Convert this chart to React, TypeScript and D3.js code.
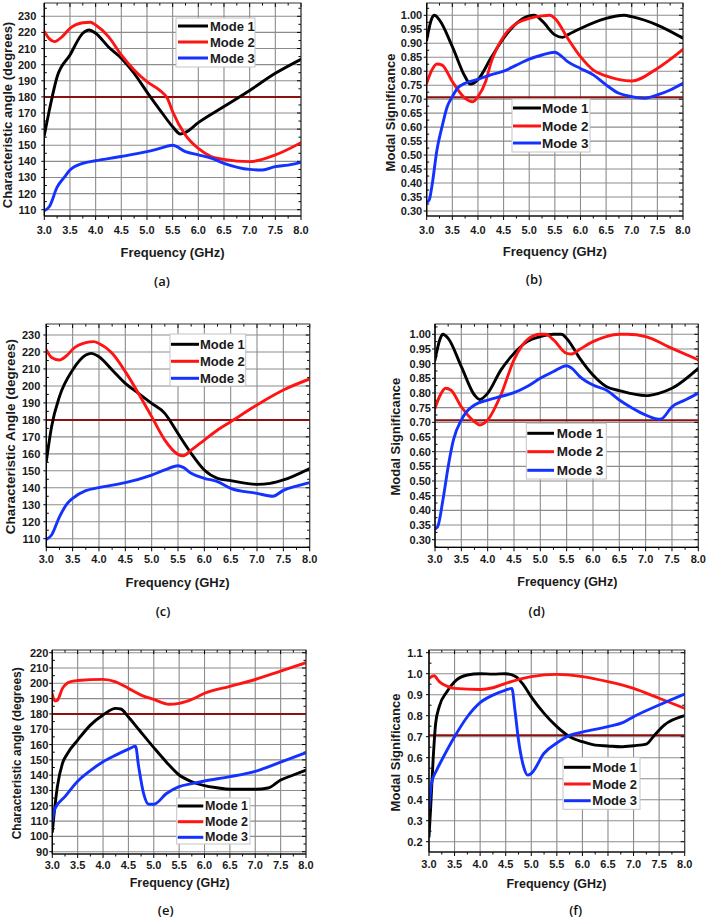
import React from "react";
import * as d3 from "d3";

type Pt = [number, number];

const freqTicks = [3.0, 3.5, 4.0, 4.5, 5.0, 5.5, 6.0, 6.5, 7.0, 7.5, 8.0];
const modeNames = ["Mode 1", "Mode 2", "Mode 3"];
const modeColors = ["#000000", "#ff1414", "#1432ff"];
const angleTicksA = [110, 120, 130, 140, 150, 160, 170, 180, 190, 200, 210, 220, 230];
const angleTicksE = [90, 100, 110, 120, 130, 140, 150, 160, 170, 180, 190, 200, 210, 220];
const msTicksB = [0.3, 0.35, 0.4, 0.45, 0.5, 0.55, 0.6, 0.65, 0.7, 0.75, 0.8, 0.85, 0.9, 0.95, 1.0];
const msTicksF = [0.2, 0.3, 0.4, 0.5, 0.6, 0.7, 0.8, 0.9, 1.0, 1.1];
const angleRef = 180;
const msRef = 0.707;

const aMode1: Pt[] = [[3.0,156],[3.1,172],[3.25,192.5],[3.5,206],[3.75,219.5],[3.87,221.5],[4.0,219.5],[4.25,211],[4.5,204],[4.75,194.6],[5.0,183],[5.25,172],[5.5,161.5],[5.65,157],[5.75,158],[6.0,164],[6.5,174],[7.0,184],[7.5,194.6],[8.0,203.3]];
const aMode2: Pt[] = [[3.0,220.5],[3.1,216],[3.2,214.3],[3.35,217.4],[3.5,222.5],[3.75,226],[3.9,226.3],[4.0,224.6],[4.25,217.4],[4.5,206],[4.75,196.7],[5.0,189.4],[5.25,184],[5.4,179],[5.5,170.8],[5.75,156.3],[6.0,148],[6.25,143],[6.5,141.2],[7.0,139.8],[7.5,144],[8.0,151.6]];
const aMode3: Pt[] = [[3.0,109.4],[3.1,112],[3.25,124],[3.4,130.5],[3.5,134.6],[3.75,138.8],[4.0,140.4],[4.5,143],[5.0,146],[5.25,148],[5.5,150],[5.75,146],[6.0,144],[6.25,142],[6.5,138.8],[7.0,135],[7.25,134.6],[7.5,136.7],[7.75,137.7],[8.0,139.4]];

const bMode1: Pt[] = [[3.0,0.912],[3.1,0.989],[3.15,1.0],[3.25,0.983],[3.5,0.888],[3.75,0.78],[3.85,0.754],[4.0,0.77],[4.25,0.846],[4.5,0.918],[4.75,0.971],[5.0,0.998],[5.1,1.0],[5.25,0.98],[5.5,0.93],[5.65,0.921],[5.75,0.93],[6.0,0.953],[6.5,0.989],[6.85,1.0],[7.0,0.995],[7.5,0.965],[8.0,0.918]];
const bMode2: Pt[] = [[3.0,0.757],[3.1,0.804],[3.2,0.826],[3.3,0.822],[3.5,0.763],[3.75,0.703],[3.9,0.691],[4.0,0.709],[4.15,0.763],[4.25,0.828],[4.5,0.924],[4.75,0.971],[5.0,0.989],[5.25,0.998],[5.4,1.0],[5.5,0.989],[5.75,0.918],[6.0,0.852],[6.25,0.804],[6.5,0.783],[7.0,0.765],[7.5,0.81],[8.0,0.878]];
const bMode3: Pt[] = [[3.0,0.331],[3.05,0.34],[3.1,0.387],[3.2,0.518],[3.3,0.602],[3.4,0.673],[3.5,0.709],[3.6,0.739],[3.75,0.757],[4.0,0.771],[4.25,0.787],[4.5,0.8],[4.75,0.822],[5.0,0.843],[5.25,0.858],[5.5,0.868],[5.6,0.858],[5.75,0.834],[6.0,0.81],[6.25,0.787],[6.5,0.751],[6.75,0.721],[7.0,0.709],[7.25,0.703],[7.5,0.715],[7.75,0.733],[8.0,0.757]];

const cMode1: Pt[] = [[3.0,155.4],[3.1,176],[3.25,193.7],[3.5,209.4],[3.75,218.2],[3.85,219.2],[4.0,217.2],[4.25,209.4],[4.5,201.5],[4.75,195.6],[5.0,189.7],[5.25,183.8],[5.4,177],[5.5,172],[5.75,160.3],[6.0,150.5],[6.25,145.6],[6.5,144.2],[7.0,142],[7.25,142.6],[7.5,144.6],[8.0,151.4]];
const cMode2: Pt[] = [[3.0,221.2],[3.1,216.8],[3.25,215.3],[3.4,218.2],[3.5,221.6],[3.75,225.5],[3.9,226.1],[4.0,225],[4.25,219.2],[4.5,208.4],[4.75,195.6],[5.0,181.9],[5.25,168.1],[5.5,159.7],[5.6,158.9],[5.75,162.2],[6.0,168.1],[6.25,174],[6.5,178.9],[7.0,188.8],[7.5,197.6],[8.0,204.1]];
const cMode3: Pt[] = [[3.0,109.6],[3.1,112.2],[3.25,122.9],[3.4,130.8],[3.5,133.8],[3.75,138.3],[4.0,140.1],[4.5,143],[5.0,147.5],[5.25,150.5],[5.5,153],[5.6,152],[5.75,148.5],[6.0,145.6],[6.25,143.6],[6.5,139.7],[7.0,136.7],[7.3,135],[7.5,138.5],[7.75,141],[8.0,143]];

const dMode1: Pt[] = [[3.0,0.9125],[3.1,0.986],[3.15,1.0],[3.25,0.986],[3.5,0.89],[3.75,0.793],[3.85,0.778],[4.0,0.799],[4.25,0.878],[4.5,0.935],[4.75,0.975],[5.0,0.992],[5.25,1.0],[5.4,1.0],[5.5,0.986],[5.75,0.918],[6.0,0.861],[6.25,0.822],[6.5,0.808],[7.0,0.791],[7.25,0.799],[7.5,0.816],[8.0,0.884]];
const dMode2: Pt[] = [[3.0,0.748],[3.1,0.793],[3.2,0.816],[3.3,0.81],[3.5,0.753],[3.75,0.702],[3.85,0.691],[4.0,0.708],[4.25,0.793],[4.5,0.913],[4.75,0.981],[5.0,1.0],[5.1,1.0],[5.25,0.981],[5.5,0.935],[5.6,0.933],[5.75,0.949],[6.0,0.975],[6.25,0.992],[6.5,1.0],[6.65,1.0],[7.0,0.992],[7.5,0.952],[8.0,0.913]];
const dMode3: Pt[] = [[3.0,0.337],[3.05,0.344],[3.15,0.435],[3.25,0.549],[3.35,0.64],[3.5,0.708],[3.6,0.736],[3.75,0.759],[4.0,0.776],[4.25,0.788],[4.5,0.801],[4.75,0.822],[5.0,0.85],[5.25,0.873],[5.5,0.893],[5.6,0.884],[5.75,0.856],[6.0,0.827],[6.25,0.81],[6.5,0.776],[6.75,0.748],[7.0,0.725],[7.25,0.711],[7.3,0.712],[7.5,0.753],[7.75,0.776],[8.0,0.799]];

const eMode1: Pt[] = [[3.0,103],[3.03,112.9],[3.1,132.5],[3.2,147.7],[3.3,154.2],[3.5,162.9],[3.75,172.7],[4.0,179.3],[4.25,183.6],[4.35,183.2],[4.5,178],[4.7,170],[5.0,158],[5.25,148.5],[5.5,140.1],[5.75,135.7],[6.0,133.2],[6.25,131.8],[6.5,130.8],[7.0,130.8],[7.25,131.6],[7.5,136.8],[7.75,140.1],[8.0,143.3]];
const eMode2: Pt[] = [[3.0,193],[3.05,188.5],[3.1,189],[3.2,196.7],[3.35,201],[3.5,201.8],[4.0,202.6],[4.25,201],[4.5,196.7],[4.75,192.3],[5.0,189.5],[5.3,186.3],[5.5,186.9],[5.75,189.5],[6.0,193.5],[6.5,198],[7.0,202.5],[7.5,208],[8.0,213.5]];
const eMode3: Pt[] = [[3.0,110],[3.05,118],[3.25,126],[3.5,136],[3.75,143],[4.0,148.8],[4.25,153.1],[4.5,157],[4.64,159],[4.7,146],[4.8,128],[4.9,121],[5.0,121],[5.25,128],[5.5,132.5],[5.75,134.5],[6.0,136.2],[6.5,139],[7.0,142.5],[7.5,148.5],[8.0,154.7]];

const fMode1: Pt[] = [[3.0,0.224],[3.03,0.351],[3.08,0.589],[3.13,0.763],[3.2,0.843],[3.35,0.914],[3.5,0.962],[3.75,0.994],[4.0,1.0],[4.25,0.998],[4.5,1.0],[4.7,0.986],[4.85,0.946],[5.0,0.89],[5.25,0.811],[5.5,0.748],[5.75,0.7],[6.0,0.676],[6.25,0.66],[6.5,0.656],[6.75,0.652],[7.0,0.657],[7.25,0.665],[7.4,0.705],[7.6,0.755],[8.0,0.8]];
const fMode2: Pt[] = [[3.0,0.978],[3.1,0.99],[3.2,0.962],[3.35,0.941],[3.5,0.93],[4.0,0.925],[4.25,0.933],[4.5,0.954],[5.0,0.986],[5.5,0.997],[6.0,0.986],[6.5,0.962],[7.0,0.93],[7.5,0.883],[8.0,0.835]];
const fMode3: Pt[] = [[3.0,0.36],[3.05,0.478],[3.15,0.541],[3.25,0.589],[3.5,0.7],[3.75,0.795],[4.0,0.862],[4.25,0.898],[4.5,0.922],[4.62,0.93],[4.68,0.827],[4.75,0.684],[4.85,0.557],[4.93,0.517],[5.0,0.525],[5.25,0.621],[5.5,0.67],[5.75,0.706],[6.0,0.722],[6.5,0.748],[6.8,0.768],[7.0,0.795],[7.5,0.851],[8.0,0.903]];

type Panel = {
  id: string;
  series: Pt[][];
  yTicks: number[];
  yFmt: (v: number) => string;
  minorStep: number;
  ref: number;
  x0: number; x1: number; top: number; bottom: number;
  v1: number; p1: number; v2: number; p2: number;
  labelGap: number; xLabelDy: number;
  yTitle: string; yTitleX: number; yTitleY: number; yTitleSize: number;
  xTitleX: number; xTitleY: number; xTitleSize: number;
  caption: string; capX: number; capY: number;
  leg: { x: number; y: number; w: number; h: number; rows: number[]; lx0: number; lx1: number; tx: number; size: number };
};

const f0 = (v: number) => d3.format(".0f")(v);
const f2 = (v: number) => d3.format(".2f")(v);
const f1 = (v: number) => d3.format(".1f")(v);

const panels: Panel[] = [
  { id: "a", series: [aMode1, aMode2, aMode3], yTicks: angleTicksA, yFmt: f0, minorStep: 5, ref: angleRef,
    x0: 44.3, x1: 301, top: 3, bottom: 216, v1: 230, p1: 16.3, v2: 110, p2: 209.7, labelGap: 8, xLabelDy: 14,
    yTitle: "Characteristic angle (degrees)", yTitleX: 7.5, yTitleY: 115, yTitleSize: 13,
    xTitleX: 172.5, xTitleY: 252.7, xTitleSize: 13, caption: "(a)", capX: 162, capY: 281,
    leg: { x: 176, y: 18, w: 79, h: 49, rows: [26, 42, 58], lx0: 178, lx1: 208, tx: 210, size: 13 } },
  { id: "b", series: [bMode1, bMode2, bMode3], yTicks: msTicksB, yFmt: f2, minorStep: 0.025, ref: msRef,
    x0: 426.7, x1: 683, top: 3, bottom: 216, v1: 1.0, p1: 15.3, v2: 0.3, p2: 211, labelGap: 4.5, xLabelDy: 14,
    yTitle: "Modal Significance", yTitleX: 390.7, yTitleY: 112.5, yTitleSize: 13,
    xTitleX: 554.8, xTitleY: 251.7, xTitleSize: 13, caption: "(b)", capX: 534, capY: 279,
    leg: { x: 512, y: 99, w: 78, h: 53, rows: [108, 126, 143], lx0: 513, lx1: 541, tx: 542, size: 13.5 } },
  { id: "c", series: [cMode1, cMode2, cMode3], yTicks: angleTicksA, yFmt: f0, minorStep: 5, ref: angleRef,
    x0: 46.3, x1: 309.7, top: 324, bottom: 547.3, v1: 230, p1: 335, v2: 110, p2: 538.7, labelGap: 6, xLabelDy: 12,
    yTitle: "Characteristic Angle (degrees)", yTitleX: 10, yTitleY: 436.7, yTitleSize: 13.5,
    xTitleX: 177.5, xTitleY: 582, xTitleSize: 13, caption: "(c)", capX: 163, capY: 611,
    leg: { x: 170, y: 334, w: 75.7, h: 52, rows: [344.3, 361.3, 378.3], lx0: 171, lx1: 199, tx: 200, size: 13 } },
  { id: "d", series: [dMode1, dMode2, dMode3], yTicks: msTicksB, yFmt: f2, minorStep: 0.025, ref: msRef,
    x0: 435, x1: 698.3, top: 324, bottom: 547.3, v1: 1.0, p1: 334.3, v2: 0.3, p2: 539.7, labelGap: 4, xLabelDy: 12,
    yTitle: "Modal Significance", yTitleX: 395.7, yTitleY: 436.7, yTitleSize: 13,
    xTitleX: 567.3, xTitleY: 582, xTitleSize: 12.5, caption: "(d)", capX: 536.7, capY: 611,
    leg: { x: 526.3, y: 423.3, w: 80, h: 55.7, rows: [433.3, 451.7, 470.3], lx0: 527.3, lx1: 554, tx: 556.7, size: 13.5 } },
  { id: "e", series: [eMode1, eMode2, eMode3], yTicks: angleTicksE, yFmt: f0, minorStep: 5, ref: angleRef,
    x0: 52.3, x1: 306, top: 650, bottom: 854, v1: 220, p1: 652.7, v2: 90, p2: 851.7, labelGap: 4, xLabelDy: 11,
    yTitle: "Characteristic angle (degrees)", yTitleX: 16.7, yTitleY: 753.3, yTitleSize: 12,
    xTitleX: 179.7, xTitleY: 883.3, xTitleSize: 12.5, caption: "(e)", capX: 165.7, capY: 910,
    leg: { x: 176.7, y: 798, w: 73.3, h: 46, rows: [806, 821.7, 837.3], lx0: 177.7, lx1: 203.3, tx: 205, size: 12.5 } },
  { id: "f", series: [fMode1, fMode2, fMode3], yTicks: msTicksF, yFmt: f1, minorStep: 0.05, ref: msRef,
    x0: 429, x1: 684.7, top: 650, bottom: 852, v1: 1.1, p1: 652.7, v2: 0.2, p2: 841.7, labelGap: 6.5, xLabelDy: 11.5,
    yTitle: "Modal Significance", yTitleX: 395.7, yTitleY: 752.5, yTitleSize: 13,
    xTitleX: 556.5, xTitleY: 884, xTitleSize: 12.5, caption: "(f)", capX: 575.7, capY: 910,
    leg: { x: 563, y: 757.3, w: 77, h: 52, rows: [767.3, 784, 800.7], lx0: 564, lx1: 590.7, tx: 592.3, size: 13 } },
];

const FONT = "'Liberation Sans', Arial, Helvetica, sans-serif";
const CAPFONT = "'Open Sans', 'Noto Sans', sans-serif";

function PanelView({ p }: { p: Panel }) {
  const x = d3.scaleLinear().domain([3, 8]).range([p.x0, p.x1]);
  const y = d3.scaleLinear().domain([p.v1, p.v2]).range([p.p1, p.p2]);
  const line = d3.line<Pt>().x((d) => x(d[0])).y((d) => y(d[1])).curve(d3.curveMonotoneX);
  const minorX = d3.range(3.25, 8, 0.5);
  const yMin = y.invert(p.bottom);
  const yMax = y.invert(p.top);
  const minorY: number[] = [];
  for (let v = p.yTicks[0] - p.minorStep * 2; v <= yMax + 1e-9; v += p.minorStep) {
    if (v >= yMin && v <= yMax) {
      const isMajor = p.yTicks.some((t) => Math.abs(t - v) < 1e-6);
      if (!isMajor) minorY.push(v);
    }
  }
  const clipId = `clip-${p.id}`;
  return (
    <g>
      <defs>
        <clipPath id={clipId}>
          <rect x={p.x0} y={p.top} width={p.x1 - p.x0} height={p.bottom - p.top} />
        </clipPath>
      </defs>
      <rect x={p.x0} y={p.top} width={p.x1 - p.x0} height={p.bottom - p.top} fill="#ffffff" />
      {freqTicks.map((t) => (
        <line key={`gx${t}`} x1={x(t)} x2={x(t)} y1={p.top} y2={p.bottom} stroke="#8c8c8c" strokeWidth={1.1} />
      ))}
      {p.yTicks.map((t) => (
        <line key={`gy${t}`} x1={p.x0} x2={p.x1} y1={y(t)} y2={y(t)} stroke="#8c8c8c" strokeWidth={1.1} />
      ))}
      {freqTicks.map((t) => (
        <g key={`tx${t}`}>
          <line x1={x(t)} x2={x(t)} y1={p.bottom} y2={p.bottom + 4} stroke="#000" strokeWidth={1} />
          <line x1={x(t)} x2={x(t)} y1={p.top} y2={p.top + 4} stroke="#000" strokeWidth={1} />
        </g>
      ))}
      {minorX.map((t) => (
        <g key={`mx${t}`}>
          <line x1={x(t)} x2={x(t)} y1={p.bottom} y2={p.bottom + 2.5} stroke="#000" strokeWidth={1} />
          <line x1={x(t)} x2={x(t)} y1={p.top} y2={p.top + 2.5} stroke="#000" strokeWidth={1} />
        </g>
      ))}
      {p.yTicks.map((t) => (
        <g key={`ty${t}`}>
          <line x1={p.x0 - 3} x2={p.x0} y1={y(t)} y2={y(t)} stroke="#000" strokeWidth={1} />
          <line x1={p.x1 - 4} x2={p.x1} y1={y(t)} y2={y(t)} stroke="#000" strokeWidth={1} />
        </g>
      ))}
      {minorY.map((t) => (
        <g key={`my${t}`}>
          <line x1={p.x0} x2={p.x0 + 2.5} y1={y(t)} y2={y(t)} stroke="#000" strokeWidth={1} />
          <line x1={p.x1 - 2.5} x2={p.x1} y1={y(t)} y2={y(t)} stroke="#000" strokeWidth={1} />
        </g>
      ))}
      <line x1={p.x0} x2={p.x1} y1={y(p.ref)} y2={y(p.ref)} stroke="#8b1010" strokeWidth={2} />
      <g clipPath={`url(#${clipId})`}>
        {p.series.map((s, i) => (
          <path key={i} d={line(s) || ""} fill="none" stroke={modeColors[i]} strokeWidth={2.9} strokeLinejoin="round" strokeLinecap="round" />
        ))}
      </g>
      <rect x={p.x0} y={p.top} width={p.x1 - p.x0} height={p.bottom - p.top} fill="none" stroke="#333" strokeWidth={1} />
      <line x1={p.x0} x2={p.x0} y1={p.top} y2={p.bottom} stroke="#000" strokeWidth={1.2} />
      <line x1={p.x0} x2={p.x1} y1={p.bottom} y2={p.bottom} stroke="#000" strokeWidth={1.2} />
      {freqTicks.map((t) => (
        <text key={`lx${t}`} x={x(t)} y={p.bottom + p.xLabelDy} textAnchor="middle" dominantBaseline="central"
          fontFamily={FONT} fontWeight="bold" fontSize={11} fill="#1a1a1a">{f1(t)}</text>
      ))}
      {p.yTicks.map((t) => (
        <text key={`ly${t}`} x={p.x0 - p.labelGap} y={y(t)} textAnchor="end" dominantBaseline="central"
          fontFamily={FONT} fontWeight="bold" fontSize={11} fill="#1a1a1a">{p.yFmt(t)}</text>
      ))}
      <text x={p.xTitleX} y={p.xTitleY} textAnchor="middle" dominantBaseline="central" fontFamily={FONT}
        fontWeight="bold" fontSize={p.xTitleSize} fill="#1a1a1a">Frequency (GHz)</text>
      <text transform={`translate(${p.yTitleX},${p.yTitleY}) rotate(-90)`} textAnchor="middle" dominantBaseline="central"
        fontFamily={FONT} fontWeight="bold" fontSize={p.yTitleSize} fill="#1a1a1a">{p.yTitle}</text>
      <text x={p.capX} y={p.capY} textAnchor="middle" dominantBaseline="central" fontFamily={CAPFONT}
        fontSize={13} fontWeight={600} fill="#111">{p.caption}</text>
      <rect x={p.leg.x} y={p.leg.y} width={p.leg.w} height={p.leg.h} fill="#ffffff" stroke="#c4c4c4" strokeWidth={1} />
      {modeNames.map((m, i) => (
        <g key={m}>
          <line x1={p.leg.lx0} x2={p.leg.lx1} y1={p.leg.rows[i]} y2={p.leg.rows[i]} stroke={modeColors[i]} strokeWidth={3} />
          <text x={p.leg.tx} y={p.leg.rows[i]} dominantBaseline="central" fontFamily={FONT} fontWeight="bold"
            fontSize={p.leg.size} fill="#1a1a1a">{m}</text>
        </g>
      ))}
    </g>
  );
}

export default function App() {
  return (
    <svg width={709} height={919} viewBox="0 0 709 919" style={{ position: "absolute", left: 0, top: 0, background: "#fff" }}>
      <rect x={0} y={0} width={709} height={919} fill="#ffffff" />
      {panels.map((p) => (
        <PanelView key={p.id} p={p} />
      ))}
    </svg>
  );
}
